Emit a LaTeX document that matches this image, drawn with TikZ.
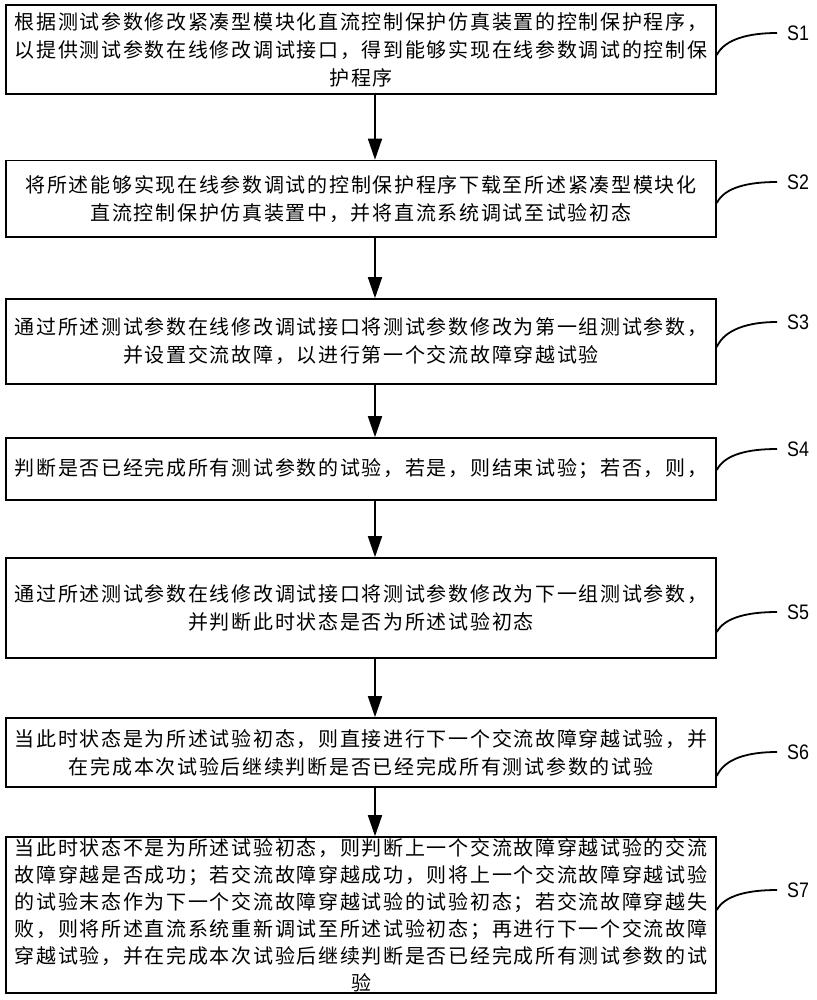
\documentclass[tikz,border=0pt]{standalone}
\usepackage{fontspec}
\usetikzlibrary{arrows.meta}
\newfontfamily\cjk[LetterSpace=8.5]{Noto Sans CJK SC}
\newfontfamily\lab{Liberation Sans}
\begin{document}
\begin{tikzpicture}[x=1pt,y=-1pt,
  stepbox/.style={draw, line width=1.6pt, minimum width=710pt, inner sep=0pt,
    align=center, font=\cjk\fontsize{20}{28}\selectfont},
  flow/.style={line width=1.6pt, -{Triangle[length=21pt,width=14pt]}},
  slab/.style={anchor=west, inner sep=0pt, font=\lab\fontsize{21}{21}\selectfont},
  lead/.style={line width=1.8pt}
]
\useasboundingbox (0,0) rectangle (816,1000);
\fill[white] (0,0) rectangle (816,1000);

\node[stepbox, minimum height=89pt] (b1) at (361,49.5)
 {根据测试参数修改紧凑型模块化直流控制保护仿真装置的控制保护程序，\\
  以提供测试参数在线修改调试接口，得到能够实现在线参数调试的控制保\\
  护程序};
\node[stepbox, minimum height=76.5pt] (b2) at (361,198.75)
 {将所述能够实现在线参数调试的控制保护程序下载至所述紧凑型模块化\\
  直流控制保护仿真装置中，并将直流系统调试至试验初态};
\node[stepbox, minimum height=85pt] (b3) at (361,341.5)
 {通过所述测试参数在线修改调试接口将测试参数修改为第一组测试参数，\\
  并设置交流故障，以进行第一个交流故障穿越试验};
\node[stepbox, minimum height=62pt] (b4) at (361,469)
 {判断是否已经完成所有测试参数的试验，若是，则结束试验；若否，则，};
\node[stepbox, minimum height=100pt] (b5) at (361,608)
 {通过所述测试参数在线修改调试接口将测试参数修改为下一组测试参数，\\
  并判断此时状态是否为所述试验初态};
\node[stepbox, minimum height=69pt] (b6) at (361,752.5)
 {当此时状态是为所述试验初态，则直接进行下一个交流故障穿越试验，并\\
  在完成本次试验后继续判断是否已经完成所有测试参数的试验};
\node[stepbox, minimum height=156pt, font=\cjk\fontsize{20}{27}\selectfont] (b7) at (361,915)
 {当此时状态不是为所述试验初态，则判断上一个交流故障穿越试验的交流\\
  故障穿越是否成功；若交流故障穿越成功，则将上一个交流故障穿越试验\\
  的试验末态作为下一个交流故障穿越试验的试验初态；若交流故障穿越失\\
  败，则将所述直流系统重新调试至所述试验初态；再进行下一个交流故障\\
  穿越试验，并在完成本次试验后继续判断是否已经完成所有测试参数的试\\
  验};

\foreach \a/\b in {b1/b2,b2/b3,b3/b4,b4/b5,b5/b6,b6/b7}
  \draw[flow] ([xshift=14pt]\a.south) -- ([xshift=14pt]\b.north);

\node[slab] (L1) at (787,33) {\scalebox{0.85}[1]{S1}};
\node[slab] (L2) at (787,182) {\scalebox{0.85}[1]{S2}};
\node[slab] (L3) at (787,322) {\scalebox{0.85}[1]{S3}};
\node[slab] (L4) at (787,449) {\scalebox{0.85}[1]{S4}};
\node[slab] (L5) at (787,612) {\scalebox{0.85}[1]{S5}};
\node[slab] (L6) at (787,752) {\scalebox{0.85}[1]{S6}};
\node[slab] (L7) at (787,890) {\scalebox{0.85}[1]{S7}};

\draw[lead] ([yshift=-5.5pt]b1.east) .. controls +(8,-16) and +(-28,0) .. ([xshift=-10pt]L1.west);
\draw[lead] ([yshift=-4.25pt]b2.east) .. controls +(8,-16) and +(-28,0) .. ([xshift=-10pt]L2.west);
\draw[lead] ([yshift=-5.5pt]b3.east) .. controls +(8,-18) and +(-28,0) .. ([xshift=-10pt]L3.west);
\draw[lead] ([yshift=-1pt]b4.east) .. controls +(8,-16) and +(-28,0) .. ([xshift=-10pt]L4.west);
\draw[lead] ([yshift=-24pt]b5.east) .. controls +(8,-15) and +(-28,0) .. ([xshift=-10pt]L5.west);
\draw[lead] ([yshift=-23.5pt]b6.east) .. controls +(8,-18) and +(-28,0) .. ([xshift=-10pt]L6.west);
\draw[lead] ([yshift=5pt]b7.east) .. controls +(8,-15) and +(-28,0) .. ([xshift=-10pt]L7.west);
\end{tikzpicture}
\end{document}
